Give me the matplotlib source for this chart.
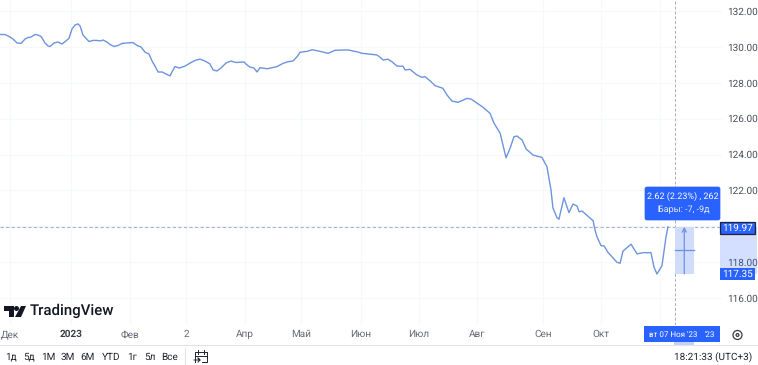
import matplotlib
matplotlib.use("Agg")
import matplotlib.pyplot as plt
from matplotlib.patches import Rectangle, FancyBboxPatch, Polygon, Circle

plt.rcParams['font.family'] = ['Roboto', 'DejaVu Sans']
plt.rcParams['text.hinting'] = 'no_hinting'
plt.rcParams['text.hinting_factor'] = 1

# days since 1 Jan 2023
days = [-36.8, -34.2, -31.6, -30.1, -28.0, -25.9, -23.8, -22.3, -20.7, -18.7, -17.1, -15.5, -13.5, -11.9, -10.9,
        -8.8, -6.7, -4.7, -2.6, -1.0, 0.5, 2.1, 3.6, 4.7, 6.2, 7.8, 9.3, 11.4, 13.5, 15.0, 16.6, 18.7, 20.2, 22.3,
        24.4, 26.4, 29.0, 32.1, 34.2, 36.3, 38.3, 40.4, 42.0, 43.5, 45.1, 47.2, 49.2, 51.3, 52.3, 53.9, 56.0, 59.1,
        61.7, 64.2, 66.8, 69.4, 72.0, 73.6, 75.6, 77.7, 80.3, 82.9, 85.5, 89.6, 91.2, 92.7, 94.8, 96.4, 97.9, 101.6,
        106.7, 109.8, 112.4, 115.0, 117.1, 118.7, 122.3, 124.9, 129.0, 133.2, 136.8, 143.5, 148.7, 150.8, 158.5,
        160.1, 161.7, 164.2, 166.3, 168.9, 172.0, 173.1, 175.6, 179.3, 181.9, 183.4, 186.0, 188.6, 192.7, 194.8,
        197.4, 200.5, 205.2, 207.3, 210.4, 213.0, 217.1, 219.2, 222.3, 223.8, 225.4, 227.5, 229.5, 231.1, 233.7,
        235.8, 239.4, 244.0, 246.6, 248.7, 249.7, 251.8, 252.8, 255.4, 258.0, 260.1, 262.2, 263.2, 264.8, 270.5,
        271.5, 272.5, 274.6, 276.2, 278.2, 282.9, 284.5, 286.0, 290.2, 293.3, 296.4, 300.5, 302.1, 303.6, 306.2,
        308.3, 309.3]
prices = [130.69, 130.69, 130.55, 130.44, 130.22, 130.19, 130.44, 130.52, 130.55, 130.69, 130.66, 130.58, 130.22,
          130.05, 130.02, 130.22, 130.27, 130.16, 130.33, 130.49, 131.00, 131.22, 131.28, 131.16, 130.66, 130.47,
          130.30, 130.36, 130.36, 130.33, 130.38, 130.27, 130.13, 130.02, 130.08, 130.19, 130.22, 130.24, 130.08,
          129.99, 129.71, 129.60, 129.21, 128.93, 128.60, 128.60, 128.49, 128.38, 128.60, 128.91, 128.82, 128.93,
          129.10, 129.24, 129.32, 129.21, 129.05, 128.71, 128.66, 128.82, 129.10, 129.21, 129.13, 129.16, 128.99,
          128.88, 128.82, 128.60, 128.84, 128.78, 128.90, 129.08, 129.17, 129.21, 129.45, 129.70, 129.75, 129.84,
          129.75, 129.64, 129.81, 129.83, 129.71, 129.64, 129.55, 129.42, 129.27, 129.31, 129.17, 128.93, 128.92,
          128.71, 128.75, 128.43, 128.30, 128.34, 128.11, 127.84, 127.69, 127.32, 126.98, 126.91, 127.13, 127.09,
          126.86, 126.67, 126.30, 125.74, 125.20, 124.53, 123.82, 124.35, 124.99, 125.03, 124.81, 124.31, 123.97,
          123.84, 123.32, 122.02, 121.02, 120.48, 120.39, 121.59, 120.76, 121.24, 121.13, 120.81, 120.85, 120.31,
          119.79, 119.42, 118.92, 118.90, 118.55, 117.99, 117.94, 118.62, 119.00, 118.46, 118.53, 118.53, 117.71,
          117.34, 117.80, 119.42, 119.97]

month_days = [-31.6, 0, 30.6, 59.6, 90.2, 119.2, 150.3, 180.3, 210.4, 244.6, 274.6, 305.2]
month_labels = ['Дек', '2023', 'Фев', '2', 'Апр', 'Май', 'Июн', 'Июл', 'Авг', 'Сен', 'Окт', '']
price_ticks = [116, 118, 120, 122, 124, 126, 128, 130, 132]
price_labels = ['116.00', '118.00', '', '122.00', '124.00', '126.00', '128.00', '130.00', '132.00']

range_low = 117.35
range_high = 119.97
hover_day = 312.7
range_end_day = 322.8

LINE = '#6d94e0'
BLUE = '#2962ff'
GRID = '#f7f8fa'
TEXT = '#4a4e5a'

W, H = 758, 365
fig = plt.figure(figsize=(W / 100, H / 100), dpi=100)

# main price pane
ax = fig.add_axes([0, 1 - 325 / H, 722 / W, 325 / H])
ax.set_xlim(-36.8, 337.3)
ax.set_ylim(114.497, 132.613)
for s in ax.spines.values():
    s.set_visible(False)
ax.grid(True, color=GRID, lw=0.9)
ax.set_axisbelow(True)
ax.set_xticks(month_days)
ax.set_xticklabels(month_labels)
ax.yaxis.tick_right()
ax.set_yticks(price_ticks)
ax.set_yticklabels(price_labels)
ax.tick_params(axis='y', length=0, pad=3.5, labelsize=7, labelcolor=TEXT)
ax.tick_params(axis='x', length=0, pad=3.5, labelsize=7, labelcolor='#666a75')
ax.get_xticklabels()[1].set_fontweight('bold')
ax.get_xticklabels()[1].set_color('#3a3d48')

ax.plot(days, prices, color=LINE, lw=1.0, zorder=3)

# measure tool
ax.axhline(range_high, color='#a3b2da', lw=0.8, ls=(0, (3, 2)), zorder=2)
ax.axvline(hover_day, color='#a8adba', lw=0.7, ls=(0, (3, 2)), zorder=2)
ax.axvspan(hover_day, range_end_day, ymin=(range_low - 114.497) / 18.116, ymax=(range_high - 114.497) / 18.116,
           color='#d0dcf9', lw=0, zorder=2)
mid_day = (hover_day + range_end_day) / 2
ax.annotate('', xy=(mid_day, range_high), xytext=(mid_day, range_low),
            arrowprops=dict(arrowstyle='->', color='#6f8fe0', lw=0.9, shrinkA=0, shrinkB=0, mutation_scale=7), zorder=4)
ax.plot([hover_day, range_end_day], [(range_low + range_high) / 2] * 2, color='#6f8fe0', lw=0.9, zorder=4)

# overlay in pixels for the UI chrome
ui = fig.add_axes([0, 0, 1, 1])
ui.set_xlim(0, W)
ui.set_ylim(H, 0)
ui.axis('off')
ui.patch.set_alpha(0)

ui.add_patch(Rectangle((720, 227), 37, 47, color=BLUE, alpha=0.2, lw=0))
ui.add_patch(FancyBboxPatch((645, 187), 75, 33, boxstyle='round,pad=0,rounding_size=2', fc=BLUE, ec=BLUE, lw=0.5))
ui.text(683, 196, '2.62 (2.23%) , 262', color='white', fontsize=6.4, ha='center', va='center')
ui.text(684, 210, 'Бары: -7, -9д', color='#e3eaff', fontsize=6.4, ha='center', va='center')

ui.add_patch(Rectangle((720, 222), 35, 12, fc=BLUE, ec='#20242e', lw=0.9))
ui.text(738, 228, '119.97', color='white', fontsize=7, ha='center', va='center')
ui.add_patch(Rectangle((720, 268), 35, 12, fc=BLUE, ec=BLUE, lw=0))
ui.text(738, 274, '117.35', color='white', fontsize=7, ha='center', va='center')

# date label on the time axis
ui.add_patch(Rectangle((644, 326), 76, 16, fc=BLUE, ec=BLUE, lw=0))
ui.add_patch(Rectangle((674, 342), 20, 3, fc='#c3d2f7', lw=0))
ui.text(649, 334.5, "вт 07 Ноя '23", color='white', fontsize=6.1, ha='left', va='center')
ui.text(710, 334.5, "'23", color='white', fontsize=6.1, ha='center', va='center')

# TradingView logo
ui.add_patch(Polygon([(4, 306), (14, 306), (14, 317), (9, 317), (9, 311), (4, 311)], fc='#131722', lw=0))
ui.add_patch(Circle((16.5, 308.5), 2.5, fc='#131722', lw=0))
ui.add_patch(Polygon([(21, 306), (26, 306), (21, 317), (15, 317)], fc='#131722', lw=0))
ui.text(30, 311, 'TradingView', color='#131722', fontsize=10.8, fontweight='medium', ha='left', va='center')

# bottom toolbar
ui.plot([0, W], [344.5, 344.5], color='#e0e3eb', lw=0.8)
ui.plot([184.5, 184.5], [348, 365], color='#e0e3eb', lw=0.8)
range_names = ['1д', '5д', '1М', '3М', '6М', 'YTD', '1г', '5л', 'Все']
range_x = [11, 29, 48, 68, 88, 111, 132, 150, 170]
for name, x in zip(range_names, range_x):
    ui.text(x, 357, name, color='#20242e', fontsize=7, ha='center', va='center')

# calendar icon
ui.plot([195, 195, 207, 207, 202], [362, 352, 352, 362, 362], color='#20242e', lw=0.7)
ui.plot([195, 207], [355.5, 355.5], color='#20242e', lw=0.7)
ui.plot([198, 198], [350, 353.5], color='#20242e', lw=0.7)
ui.plot([204, 204], [350, 353.5], color='#20242e', lw=0.7)
ui.plot([194, 200, 198, 200, 198], [360, 360, 358, 360, 362], color='#20242e', lw=0.7)

ui.text(752, 357, '18:21:33 (UTC+3)', color='#20242e', fontsize=6.9, ha='right', va='center')

# settings gear
ui.add_patch(Circle((737.5, 335), 4.5, fc='none', ec='#3a3d48', lw=0.9))
ui.add_patch(Circle((737.5, 335), 1.4, fc='none', ec='#3a3d48', lw=0.9))

fig.savefig('out.png', dpi=100)
